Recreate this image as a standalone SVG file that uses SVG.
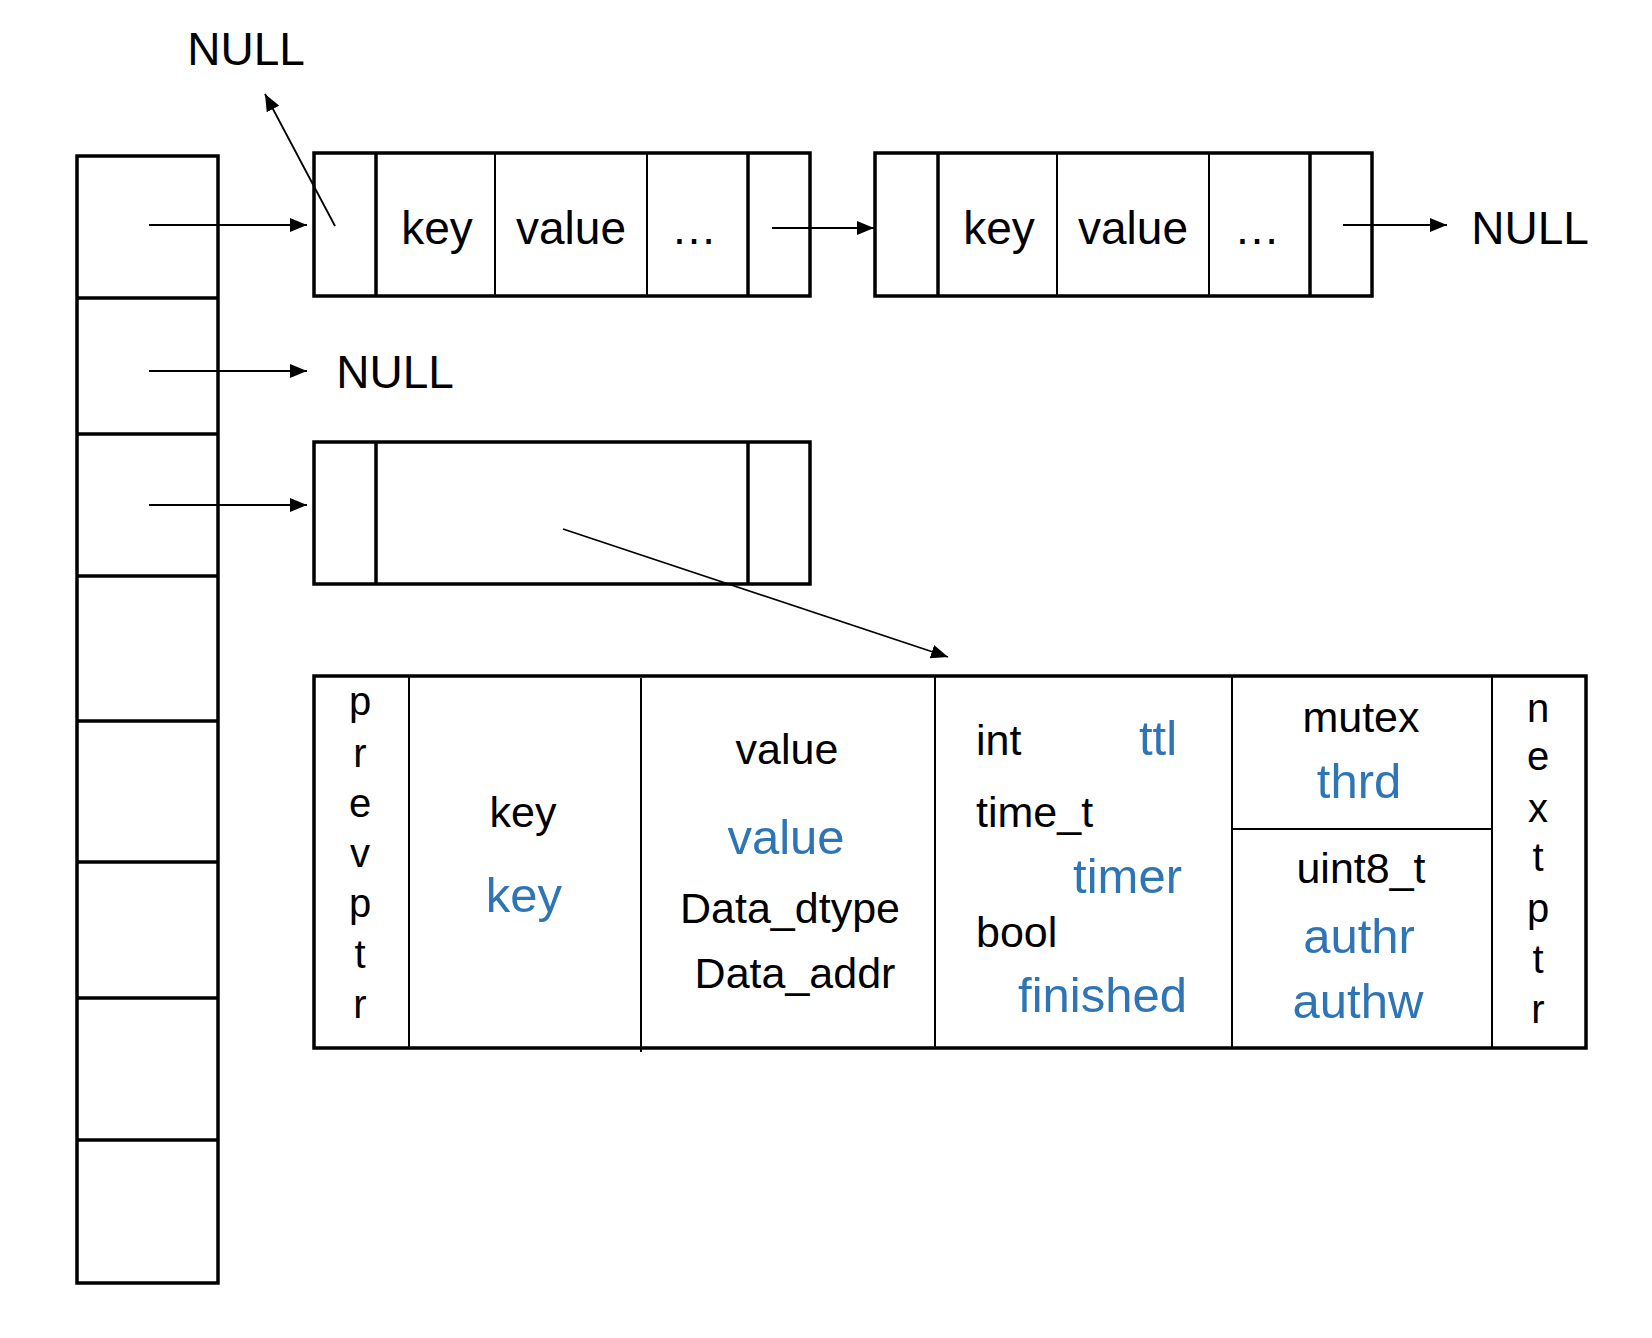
<svg xmlns="http://www.w3.org/2000/svg" width="1652" height="1338" viewBox="0 0 1652 1338">
<style>
.thick{fill:none;stroke:#000;stroke-width:3.5}
.thin{fill:none;stroke:#000;stroke-width:2}
.conn{fill:none;stroke:#000;stroke-width:1.8}
text{font-family:"Liberation Sans",Arial,sans-serif;fill:#000}
.big{font-size:46px}
.blk{font-size:43px}
.blu{font-size:49px;fill:#2E75B6}
.vert{font-size:40px;text-anchor:middle}
.mid{text-anchor:middle}
</style>
<defs>
<marker id="ah" markerUnits="userSpaceOnUse" markerWidth="18" markerHeight="14" refX="17" refY="7" orient="auto">
<path d="M0,0 L17,7 L0,14 z" fill="#000"/>
</marker>
</defs>
<rect width="1652" height="1338" fill="#fff"/>

<g id="bucket-array">
<rect class="thick" x="77" y="156" width="141" height="1127"/>
<line class="thick" x1="77" y1="298" x2="218" y2="298"/>
<line class="thick" x1="77" y1="434" x2="218" y2="434"/>
<line class="thick" x1="77" y1="576" x2="218" y2="576"/>
<line class="thick" x1="77" y1="721" x2="218" y2="721"/>
<line class="thick" x1="77" y1="862" x2="218" y2="862"/>
<line class="thick" x1="77" y1="998" x2="218" y2="998"/>
<line class="thick" x1="77" y1="1140" x2="218" y2="1140"/>
</g>

<g id="null-top"><text class="big mid" x="246" y="65">NULL</text></g>
<g id="null-row2"><text class="big mid" x="395" y="388">NULL</text></g>
<g id="null-right"><text class="big mid" x="1530" y="244">NULL</text></g>

<g id="node1">
<rect class="thick" x="314" y="153" width="496" height="143"/>
<line class="thick" x1="376" y1="153" x2="376" y2="296"/>
<line class="thin" x1="495" y1="153" x2="495" y2="296"/>
<line class="thin" x1="647" y1="153" x2="647" y2="296"/>
<line class="thick" x1="748" y1="153" x2="748" y2="296"/>
<text class="big mid" x="437" y="244">key</text>
<text class="big mid" x="571" y="244">value</text>
<text class="big mid" x="694" y="244">…</text>
</g>

<g id="node2">
<rect class="thick" x="875" y="153" width="497" height="143"/>
<line class="thick" x1="938" y1="153" x2="938" y2="296"/>
<line class="thin" x1="1057" y1="153" x2="1057" y2="296"/>
<line class="thin" x1="1209" y1="153" x2="1209" y2="296"/>
<line class="thick" x1="1310" y1="153" x2="1310" y2="296"/>
<text class="big mid" x="999" y="244">key</text>
<text class="big mid" x="1133" y="244">value</text>
<text class="big mid" x="1257" y="244">…</text>
</g>

<g id="node3">
<rect class="thick" x="314" y="442" width="496" height="142"/>
<line class="thick" x1="376" y1="442" x2="376" y2="584"/>
<line class="thick" x1="748" y1="442" x2="748" y2="584"/>
</g>

<g id="entry-detail">
<rect class="thick" x="314" y="676" width="1272" height="372"/>
<line class="thin" x1="409" y1="676" x2="409" y2="1048"/>
<line class="thin" x1="641" y1="678" x2="641" y2="1052"/>
<line class="thin" x1="935" y1="676" x2="935" y2="1048"/>
<line class="thin" x1="1232" y1="676" x2="1232" y2="1048"/>
<line class="thin" x1="1492" y1="676" x2="1492" y2="1048"/>
<line class="thin" x1="1232" y1="829" x2="1492" y2="829"/>
<text class="vert" x="360" y="715">p</text>
<text class="vert" x="360" y="767">r</text>
<text class="vert" x="360" y="817">e</text>
<text class="vert" x="360" y="867">v</text>
<text class="vert" x="360" y="917">p</text>
<text class="vert" x="360" y="968">t</text>
<text class="vert" x="360" y="1018">r</text>
<text class="blk mid" x="523" y="827">key</text>
<text class="blu mid" x="524" y="912">key</text>
<text class="blk mid" x="787" y="764">value</text>
<text class="blu mid" x="786" y="854">value</text>
<text class="blk mid" x="790" y="923">Data_dtype</text>
<text class="blk mid" x="795" y="988">Data_addr</text>
<text class="blk" x="976" y="755">int</text>
<text class="blu mid" x="1158" y="755">ttl</text>
<text class="blk" x="976" y="827">time_t</text>
<text class="blu" x="1182" y="893" text-anchor="end">timer</text>
<text class="blk" x="976" y="947">bool</text>
<text class="blu" x="1187" y="1012" text-anchor="end">finished</text>
<text class="blk mid" x="1361" y="732">mutex</text>
<text class="blu mid" x="1359" y="798">thrd</text>
<text class="blk mid" x="1361" y="883">uint8_t</text>
<text class="blu mid" x="1359" y="953">authr</text>
<text class="blu mid" x="1358" y="1018">authw</text>
<text class="vert" x="1538" y="722">n</text>
<text class="vert" x="1538" y="770">e</text>
<text class="vert" x="1538" y="822">x</text>
<text class="vert" x="1538" y="871">t</text>
<text class="vert" x="1538" y="922">p</text>
<text class="vert" x="1538" y="973">t</text>
<text class="vert" x="1538" y="1023">r</text>
</g>

<g id="connectors">
<line class="conn" x1="149" y1="225" x2="307" y2="225" marker-end="url(#ah)"/>
<line class="conn" x1="149" y1="371" x2="307" y2="371" marker-end="url(#ah)"/>
<line class="conn" x1="149" y1="505" x2="307" y2="505" marker-end="url(#ah)"/>
<line class="conn" x1="335" y1="226" x2="265" y2="94" marker-end="url(#ah)"/>
<line class="conn" x1="772" y1="228" x2="874" y2="228" marker-end="url(#ah)"/>
<line class="conn" x1="1343" y1="225" x2="1447" y2="225" marker-end="url(#ah)"/>
<line class="conn" x1="563" y1="529" x2="948" y2="657" marker-end="url(#ah)"/>
</g>
</svg>
